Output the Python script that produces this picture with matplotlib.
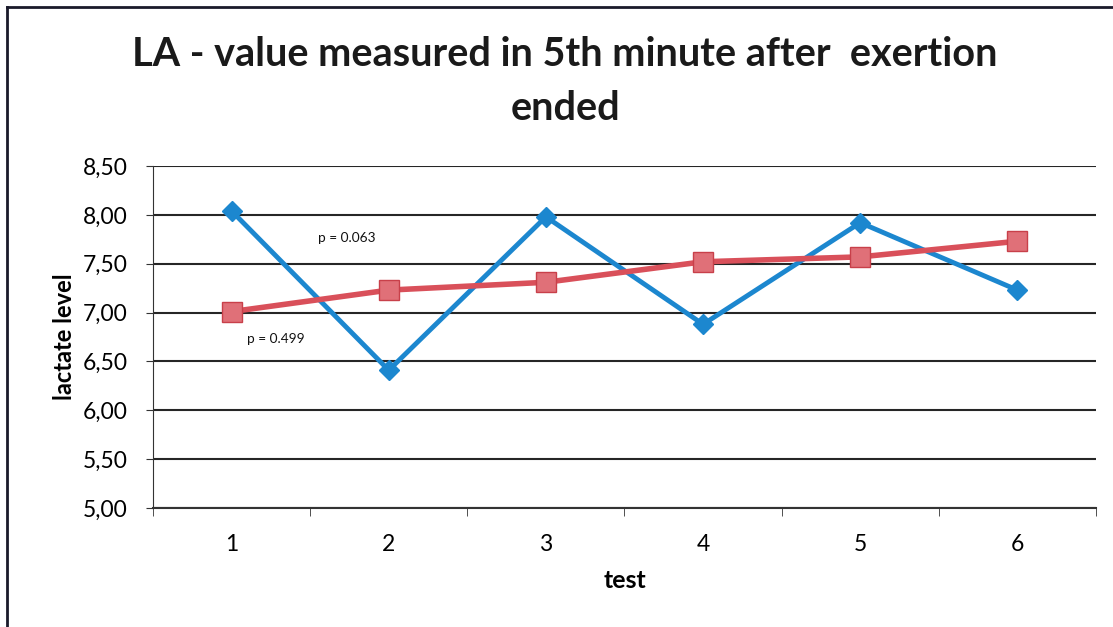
import matplotlib
matplotlib.use("Agg")
import matplotlib.pyplot as plt
from matplotlib.lines import Line2D

categories = ["1", "2", "3", "4", "5", "6"]
series_blue = [8.04, 6.41, 7.98, 6.88, 7.92, 7.23]
series_red = [7.01, 7.23, 7.31, 7.52, 7.57, 7.73]
ytick_labels = ["5,00", "5,50", "6,00", "6,50", "7,00", "7,50", "8,00", "8,50"]
yticks = [5.0, 5.5, 6.0, 6.5, 7.0, 7.5, 8.0, 8.5]
annotations = [("p = 0.063", 1.55, 7.76), ("p = 0.499", 1.10, 6.73)]

plt.rcParams['font.family'] = ['Lato', 'DejaVu Sans']

fig = plt.figure(figsize=(11.13, 6.27), dpi=100)
ax = fig.add_axes([153/1113, 1-508/627, (1096-153)/1113, (508-166)/627])

x = list(range(1, len(categories) + 1))
ax.plot(x, series_blue, color='#1c87cf', lw=3.5, marker='D', markersize=10,
        markerfacecolor='#1c87cf', markeredgecolor='#1c87cf', zorder=3)
ax.plot(x, series_red, color='#d9505a', lw=4, marker='s', markersize=14,
        markerfacecolor='#e07078', markeredgecolor='#c8404a', markeredgewidth=1, zorder=4)

for txt, xx, yy in annotations:
    ax.text(xx, yy, txt, fontsize=9.8, ha='left', va='center', color='#111111')

ax.set_xlim(0.5, len(categories) + 0.5)
ax.set_ylim(5.0, 8.5)
ax.set_yticks(yticks)
ax.set_yticklabels(ytick_labels, fontsize=16.5)
ax.set_xticks(x)
ax.set_xticklabels(categories, fontsize=16.5)
ax.set_xticks([i + 0.5 for i in range(0, len(categories) + 1)], minor=True)
ax.tick_params(axis='x', which='major', length=0, pad=19)
ax.tick_params(axis='x', which='minor', length=6, direction='out', color='#333333')
ax.tick_params(axis='y', length=5, direction='out', color='#333333', pad=13)
ax.yaxis.grid(True, color='#262626', lw=1.5)
ax.set_axisbelow(True)
for s in ['top', 'right']:
    ax.spines[s].set_visible(False)
ax.spines['left'].set_color('#333333')
ax.spines['bottom'].set_color('#333333')
ax.spines['bottom'].set_linewidth(1.5)

ax.set_ylabel('lactate level', fontsize=17, fontweight='bold', labelpad=5)
ax.set_xlabel('test', fontsize=18, fontweight='bold', labelpad=10)

fig.text(565/1113, 1-55/627, 'LA - value measured in 5th minute after  exertion',
         ha='center', va='center', fontsize=28.5, fontweight='bold', color='#1a1a1a')
fig.text(565/1113, 1-108/627, 'ended', ha='center', va='center', fontsize=28.5,
         fontweight='bold', color='#1a1a1a')

# outer chart border (top and left visible)
fig.add_artist(Line2D([7/1113, 1.0], [1-7/627, 1-7/627], color='#1a1a2a', lw=2, transform=fig.transFigure))
fig.add_artist(Line2D([7/1113, 7/1113], [0, 1-7/627], color='#1a1a2a', lw=2, transform=fig.transFigure))

fig.savefig('out.png', dpi=100)
